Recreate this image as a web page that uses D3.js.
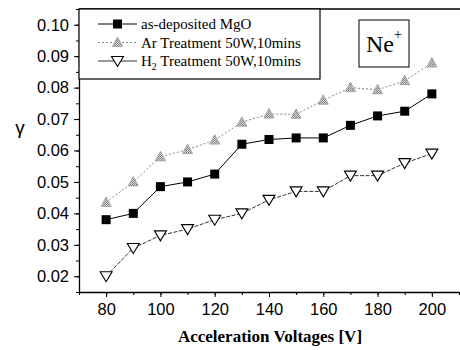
<!DOCTYPE html>
<html>
<head>
<meta charset="utf-8">
<script src="https://cdn.jsdelivr.net/npm/d3@7"></script>
<style>
body{margin:0;background:#fff;}
</style>
</head>
<body>
<script>
const width=460, height=350;

// data
const voltages=[80,90,100,110,120,130,140,150,160,170,180,190,200];
const mgo=[0.038,0.040,0.0485,0.050,0.0525,0.062,0.0635,0.064,0.064,0.068,0.071,0.0725,0.078];
const arTreat=[0.0435,0.050,0.058,0.0603,0.0633,0.069,0.0716,0.0715,0.076,0.080,0.0793,0.0822,0.0878];
const h2Treat=[0.020,0.029,0.033,0.035,0.038,0.040,0.0443,0.047,0.047,0.052,0.052,0.056,0.059];
const yTicks=[0.02,0.03,0.04,0.05,0.06,0.07,0.08,0.09,0.10];
const xTicks=[80,100,120,140,160,180,200];
const legendLabels=['as-deposited MgO','Ar Treatment 50W,10mins','H2 Treatment 50W,10mins'];

const pLeft=79, pRight=459, pTop=9, pBottom=292;
const serif='Liberation Serif, Times New Roman, serif';
const sans='Liberation Sans, Arial, sans-serif';

let svg=d3.select('body').append('svg')
  .attr('width',width).attr('height',height)
  .attr('font-family',sans);

let defs=svg.append('defs');
let pat=defs.append('pattern').attr('id','hatch').attr('width',2).attr('height',2)
  .attr('patternUnits','userSpaceOnUse');
pat.append('rect').attr('width',2).attr('height',2).attr('fill','#ddd');
pat.append('rect').attr('width',1).attr('height',1).attr('fill','#777');
pat.append('rect').attr('x',1).attr('y',1).attr('width',1).attr('height',1).attr('fill','#888');

let xScale=d3.scaleLinear().domain([70,210]).range([pLeft,pRight]);
let yScale=d3.scaleLinear().domain([0.015,0.105]).range([pBottom,pTop]);

// minor ticks
svg.append('g').attr('transform',`translate(0,${pBottom})`)
  .call(d3.axisBottom(xScale).tickValues(d3.range(70,211,10)).tickSize(3).tickSizeOuter(0).tickFormat(''))
  .call(g=>g.select('.domain').remove());
svg.append('g').attr('transform',`translate(${pLeft},0)`)
  .call(d3.axisLeft(yScale).tickValues(d3.range(0.015,0.1051,0.005)).tickSize(3).tickSizeOuter(0).tickFormat(''))
  .call(g=>g.select('.domain').remove());

// major axes
svg.append('g').attr('transform',`translate(0,${pBottom})`)
  .call(d3.axisBottom(xScale).tickValues(xTicks).tickSize(5).tickSizeOuter(0).tickPadding(6))
  .call(g=>g.selectAll('text').attr('font-size',16.5).attr('font-family',sans).attr('fill','#000'))
  .call(g=>g.select('.domain').attr('stroke','#000').attr('stroke-width',1.3));

svg.append('g').attr('transform',`translate(${pLeft},0)`)
  .call(d3.axisLeft(yScale).tickValues(yTicks).tickSize(5).tickSizeOuter(0).tickPadding(5).tickFormat(d3.format('.2f')))
  .call(g=>g.selectAll('text').attr('font-size',16.5).attr('font-family',sans).attr('fill','#000'))
  .call(g=>g.select('.domain').attr('stroke','#000').attr('stroke-width',1.3));

// top frame
svg.append('line').attr('x1',pLeft).attr('x2',width).attr('y1',pTop).attr('y2',pTop)
  .attr('stroke','#000').attr('stroke-width',1.3);

// series
const series=[
  {vals:mgo, stroke:'#000', dash:null, marker:'square'},
  {vals:arTreat, stroke:'#888', dash:'2,2', marker:'up'},
  {vals:h2Treat, stroke:'#333', dash:'4,1.5', marker:'down'}
];

let line=d3.line().x(d=>xScale(d[0])).y(d=>yScale(d[1]));

function drawMarker(g,type,cx,cy){
  if(type==='square'){
    g.append('rect').attr('x',cx-4.5).attr('y',cy-4.5).attr('width',9).attr('height',9).attr('fill','#000');
  } else if(type==='up'){
    g.append('path').attr('d',`M${cx},${cy-5.5}L${cx+5},${cy+4}L${cx-5},${cy+4}Z`)
      .attr('fill','url(#hatch)').attr('stroke','#999').attr('stroke-width',0.8);
  } else {
    g.append('path').attr('d',`M${cx-6},${cy-4.5}L${cx+6},${cy-4.5}L${cx},${cy+5.5}Z`)
      .attr('fill','#fff').attr('stroke','#000').attr('stroke-width',1.1);
  }
}

series.forEach(s=>{
  let pts=voltages.map((v,i)=>[v,s.vals[i]]);
  svg.append('path').datum(pts).attr('d',line).attr('fill','none')
    .attr('stroke',s.stroke).attr('stroke-width',1)
    .attr('stroke-dasharray',s.dash);
  let g=svg.append('g');
  pts.forEach(p=>drawMarker(g,s.marker,xScale(p[0]),yScale(p[1])));
});

// legend
let lg=svg.append('g').attr('font-family',serif);
lg.append('rect').attr('x',pLeft).attr('y',pTop).attr('width',241).attr('height',70)
  .attr('fill','#fff').attr('stroke','#000').attr('stroke-width',1.2);
const rowY=[24,42.5,61];
series.forEach((s,i)=>{
  lg.append('line').attr('x1',98).attr('x2',137).attr('y1',rowY[i]).attr('y2',rowY[i])
    .attr('stroke',s.stroke).attr('stroke-width',1).attr('stroke-dasharray',i===1?'2,2':null);
  drawMarker(lg,s.marker,117.5,rowY[i]);
  let t=lg.append('text').attr('x',141).attr('y',rowY[i]+5).attr('font-size',15).attr('fill','#000');
  if(i===2){
    t.append('tspan').text('H');
    t.append('tspan').text('2').attr('font-size',10).attr('dy',4);
    t.append('tspan').text(' Treatment 50W,10mins').attr('dy',-4);
  } else {
    t.text(legendLabels[i]);
  }
});

// Ne+ box
let nb=svg.append('g').attr('font-family',serif);
nb.append('rect').attr('x',359).attr('y',20).attr('width',50).attr('height',47)
  .attr('fill','#fff').attr('stroke','#000').attr('stroke-width',1);
let nt=nb.append('text').attr('x',366).attr('y',52).attr('font-size',24).attr('fill','#000');
nt.append('tspan').text('Ne');
nt.append('tspan').text('+').attr('font-size',14).attr('dy',-13);

// axis titles
svg.append('text').attr('x',20).attr('y',134).attr('text-anchor','middle')
  .attr('font-size',19).text('γ');
svg.append('text').attr('x',270).attr('y',342).attr('text-anchor','middle')
  .attr('font-family',serif).attr('font-weight','bold')
  .attr('font-size',17).text('Acceleration Voltages [V]');
</script>
</body>
</html>
